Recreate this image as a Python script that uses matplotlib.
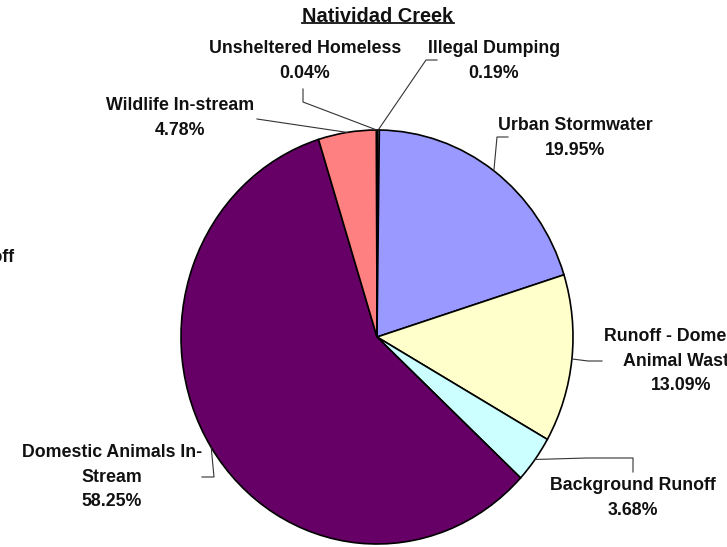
import matplotlib.pyplot as plt
from matplotlib.lines import Line2D
import numpy as np

# Natividad Creek source breakdown (clockwise from 12 o'clock)
sources = ['Illegal Dumping', 'Urban Stormwater', 'Runoff - Domestic\nAnimal Waste',
           'Background Runoff', 'Domestic Animals In-\nStream', 'Wildlife In-stream',
           'Unsheltered Homeless']
shares = [0.19, 19.95, 13.09, 3.68, 58.25, 4.78, 0.04]
colors = ['#CCCCFF', '#9999FF', '#FFFFCC', '#CCFFFF', '#660066', '#FF8080', '#0066CC']

W, H = 727, 547
plt.rcParams['font.family'] = ['Liberation Sans', 'DejaVu Sans']

fig = plt.figure(figsize=(W / 100, H / 100), dpi=100)

# pie axes sized to the (slightly tall) ellipse of the original
ax = fig.add_axes([181 / W, 3 / H, 392 / W, 414 / H])
wedges, _ = ax.pie(shares, colors=colors, startangle=90, counterclock=False,
                   radius=1, wedgeprops=dict(edgecolor='black', linewidth=1.2))
ax.set_aspect('auto')
ax.set_xlim(-1, 1)
ax.set_ylim(-1, 1)
ax.axis('off')


def fig_xy(px, py):
    return px / W, 1 - py / H


# label layout: text centre and leader waypoints (pixels from top-left)
layout = [
    ((494, 61), [(426, 60), (437, 60)]),
    ((575, 138), [(497, 137), (508, 137)]),
    ((681, 361), [(588, 361), (602, 361)]),
    ((633, 498), [(587, 458), (633, 458), (633, 472)]),
    ((112, 477), [(214, 477), (202, 477)]),
    ((180, 118), [(257, 119)]),
    ((305, 61), [(303, 102), (303, 89)]),
]

inv = fig.transFigure.inverted()
for w, name, val, (tpos, path) in zip(wedges, sources, shares, layout):
    mid = np.deg2rad((w.theta1 + w.theta2) / 2)
    anchor = inv.transform(ax.transData.transform((np.cos(mid), np.sin(mid))))
    xs = [anchor[0]] + [fig_xy(*p)[0] for p in path]
    ys = [anchor[1]] + [fig_xy(*p)[1] for p in path]
    fig.add_artist(Line2D(xs, ys, transform=fig.transFigure,
                          color='#333333', linewidth=0.8))
    tx, ty = fig_xy(*tpos)
    fig.text(tx, ty, f'{name}\n{val:.2f}%', ha='center', va='center',
             fontsize=12.8, fontweight='bold', color='#111111', linespacing=1.6)

# clipped label from a neighbouring chart on the left edge
fig.text(*fig_xy(15, 257), 'Runoff', ha='right', va='center',
         fontsize=12.8, fontweight='bold', color='#111111')

# title with underline
title = fig.text(*fig_xy(378, 16), 'Natividad Creek', ha='center', va='center',
                 fontsize=14.4, fontweight='bold', color='#111111')
fig.canvas.draw()
bb = title.get_window_extent().transformed(fig.transFigure.inverted())
fig.add_artist(Line2D([bb.x0, bb.x1], [bb.y0 + 0.004, bb.y0 + 0.004],
                      transform=fig.transFigure, color='#111111', linewidth=1.3))

fig.savefig('out.png', dpi=100)
